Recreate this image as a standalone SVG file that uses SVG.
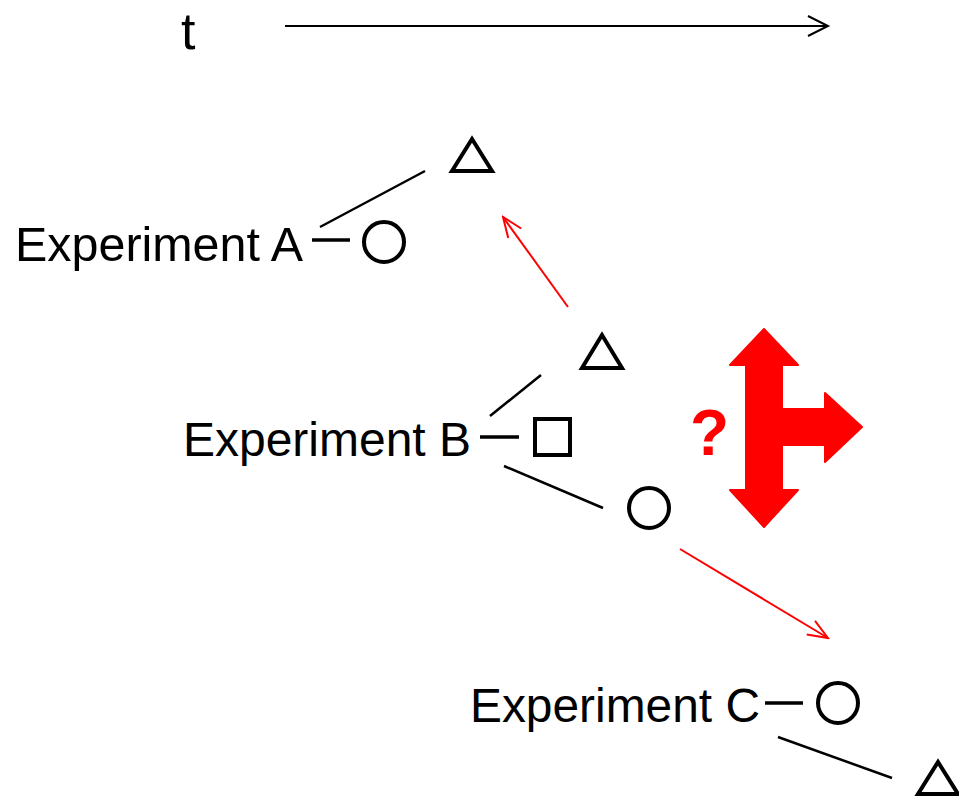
<svg xmlns="http://www.w3.org/2000/svg" width="959" height="798" viewBox="0 0 959 798">
<defs>
<style>
.lbl{font-family:"Liberation Sans",Arial,sans-serif;font-size:48px;fill:#000}
.sh{fill:none;stroke:#000;stroke-width:4}
.ln{stroke:#000;stroke-width:2.5;fill:none}
.dash{stroke:#000;stroke-width:3.5}
.red{stroke:#f00;stroke-width:2;fill:none}
</style>
<marker id="ahr" markerWidth="26" markerHeight="20" refX="24" refY="10" orient="auto" markerUnits="userSpaceOnUse" viewBox="0 0 26 20">
<path d="M4,2 L24,10 L4,18" fill="none" stroke="#f00" stroke-width="2"/>
</marker>
</defs>
<rect width="959" height="798" fill="#fff"/>
<g id="time">
<text class="lbl" x="181" y="49" style="font-size:52px">t</text>
<line x1="285" y1="26" x2="828" y2="26" stroke="#000" stroke-width="2"/>
<path d="M808,16 L828,26 L808,36" fill="none" stroke="#000" stroke-width="2"/>
</g>
<g id="expA">
<text class="lbl" x="15" y="261" textLength="288" lengthAdjust="spacingAndGlyphs">Experiment A</text>
<circle class="sh" cx="384" cy="242" r="20"/>
<path class="sh" d="M472,139 L452,171 L492,171 Z"/>
</g>
<g id="expB">
<text class="lbl" x="183" y="456" textLength="288" lengthAdjust="spacingAndGlyphs">Experiment B</text>
<rect class="sh" x="535" y="419" width="35" height="36"/>
<path class="sh" d="M602,335 L582,368 L622,368 Z"/>
<circle class="sh" cx="649" cy="508" r="20"/>
</g>
<g id="expC">
<text class="lbl" x="470" y="722" textLength="290" lengthAdjust="spacingAndGlyphs">Experiment C</text>
<circle class="sh" cx="838" cy="703" r="20"/>
<path class="sh" d="M938,762 L918,794 L958,794 Z"/>
</g>
<g id="question">
<text x="690" y="455" font-family="Liberation Sans,Arial,sans-serif" font-weight="bold" font-size="64" fill="#f00">?</text>
</g>
<g id="tri-arrow">
<path d="M764,329 L798,365 L782,365 L782,409 L825,409 L825,393 L862,427 L825,462 L825,445 L782,445 L782,490 L798,490 L764,527 L730,490 L746,490 L746,365 L730,365 Z" fill="#f00" stroke="#f00" stroke-width="2" stroke-linejoin="round"/>
</g>
<g id="connectors">
<line class="ln" x1="320" y1="227" x2="425" y2="171"/>
<line class="dash" x1="312" y1="240" x2="350" y2="240"/>
<line class="ln" x1="490" y1="416" x2="541" y2="375"/>
<line class="dash" x1="480" y1="437" x2="519" y2="437"/>
<line class="ln" x1="504" y1="466" x2="603" y2="508"/>
<line class="dash" x1="765" y1="703" x2="803" y2="703"/>
<line class="ln" x1="778" y1="737" x2="892" y2="778"/>
<line class="red" x1="568" y1="307" x2="503" y2="217" marker-end="url(#ahr)"/>
<line class="red" x1="680" y1="549" x2="828" y2="638" marker-end="url(#ahr)"/>
</g>
</svg>
